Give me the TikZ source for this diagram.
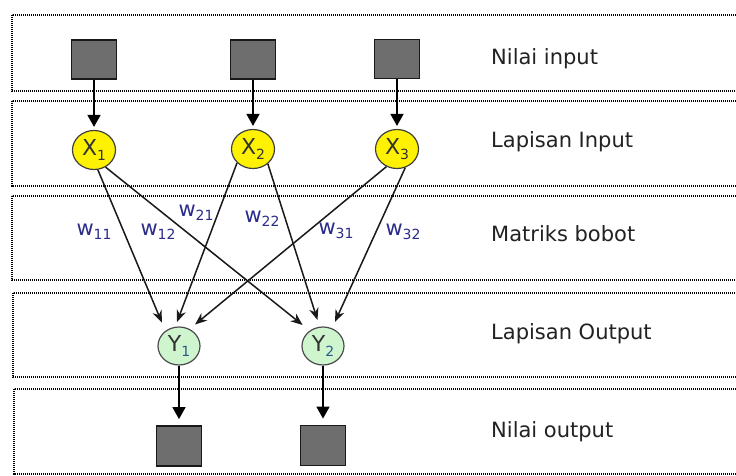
\documentclass[tikz,border=0pt]{standalone}
\usepackage{fontspec}
\setmainfont{DejaVu Sans}
\usetikzlibrary{arrows.meta,shapes.geometric}
\definecolor{sqgray}{HTML}{6E6E6E}
\definecolor{xyel}{HTML}{FFF200}
\definecolor{ygrn}{HTML}{CFF5CF}
\definecolor{wblue}{HTML}{2B2B8C}
\definecolor{txt}{HTML}{222222}
\definecolor{ysub}{HTML}{2A5A8A}
\newcommand{\mysub}[1]{\raisebox{-0.35ex}{\fontsize{14}{14}\selectfont #1}}
\begin{document}
\begin{tikzpicture}[x=1pt,y=-1pt,
  band/.style={draw=black, line width=1.6pt, dash pattern=on 1.1pt off 0.9pt},
  sq/.style={draw=black!90, fill=sqgray, line width=1.8pt, minimum width=45pt, minimum height=39pt, inner sep=0pt},
  xnode/.style={ellipse, draw=black!75, fill=xyel, line width=1.2pt, minimum width=43pt, minimum height=39pt, inner sep=0pt, text=black!80, font=\fontsize{22}{22}\selectfont},
  ynode/.style={ellipse, draw=black!70, fill=ygrn, line width=1.2pt, minimum width=42pt, minimum height=38pt, inner sep=0pt, text=black!80, font=\fontsize{22}{22}\selectfont},
  wlab/.style={text=wblue, inner sep=0pt, font=\fontsize{21}{21}\selectfont},
  rlab/.style={anchor=base west, text=txt, inner sep=0pt, font=\fontsize{21}{21}\selectfont},
  edge/.style={draw=black!90, line width=1.5pt, -{Stealth[length=12pt,width=9.5pt]}, shorten >=7pt},
  varrow/.style={draw=black, line width=1.6pt, -{Triangle[length=12pt,width=13pt]}}
]
\useasboundingbox (0,0) rectangle (736,476);
\clip (0,0) rectangle (736,476);
\fill[white] (0,0) rectangle (736,476);
% bands
\draw[band] (12,15) rectangle (760,91);
\draw[band] (12,101) rectangle (760,186);
\draw[band] (12,196) rectangle (760,280);
\draw[band] (13,293) rectangle (760,377);
\draw[band] (14,389) rectangle (760,474);
% input squares
\node[sq] (I1) at (94,59.5) {};
\node[sq] (I2) at (253,59.5) {};
\node[sq] (I3) at (397,59) {};
% input layer
\node[xnode] (X1) at (94,150) {X\mysub{1}};
\node[xnode] (X2) at (253,149) {X\mysub{2}};
\node[xnode] (X3) at (397,149) {X\mysub{3}};
% output layer
\node[ynode] (Y1) at (179,346) {Y\textcolor{ysub}{\mysub{1}}};
\node[ynode] (Y2) at (323,346) {Y\textcolor{ysub}{\mysub{2}}};
% output squares
\node[sq, minimum height=40pt] (O1) at (179,446) {};
\node[sq, minimum height=40pt] (O2) at (323,445.5) {};
% vertical arrows
\draw[varrow, shorten >=3pt] (I1.south) -- (X1.north);
\draw[varrow, shorten >=3pt] (I2.south) -- (X2.north);
\draw[varrow, shorten >=3pt] (I3.south) -- (X3.north);
\draw[varrow, shorten >=6pt] (Y1.south) -- (O1.north);
\draw[varrow, shorten >=6pt] (Y2.south) -- (O2.north);
% weights
\draw[edge, shorten >=9pt] (X1.281) -- (Y1.132);
\draw[edge, shorten >=9pt] (X1.304) -- (Y2.131);
\draw[edge, shorten >=5pt] (X2.221) -- (Y1.101);
\draw[edge] (X2.315) -- (Y2.100);
\draw[edge] (X3.239) -- (Y1.58);
\draw[edge] (X3.294) -- (Y2.63);
% weight labels
\node[wlab] (w11) at (94,232) {w\mysub{11}};
\node[wlab] (w12) at (158,232) {w\mysub{12}};
\node[wlab] (w21) at (196,213) {w\mysub{21}};
\node[wlab] (w22) at (262,219) {w\mysub{22}};
\node[wlab] (w31) at (336,231) {w\mysub{31}};
\node[wlab] (w32) at (403,232) {w\mysub{32}};
% right labels
\node[rlab] (l1) at (491,65) {Nilai input};
\node[rlab] (l2) at (491,148) {Lapisan Input};
\node[rlab] (l3) at (491,241) {Matriks bobot};
\node[rlab] (l4) at (491,339) {Lapisan Output};
\node[rlab] (l5) at (491,437) {Nilai output};
\end{tikzpicture}
\end{document}
